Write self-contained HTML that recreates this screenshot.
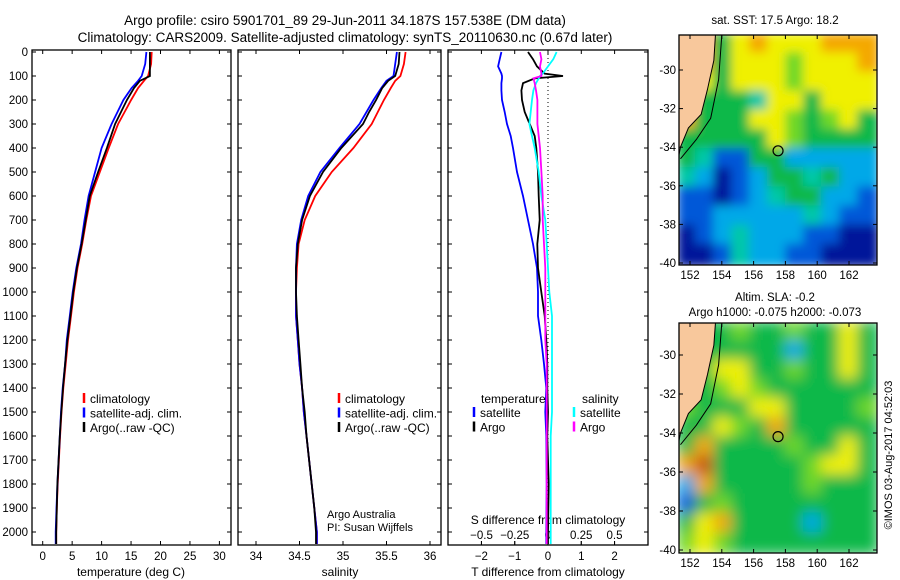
<!DOCTYPE html>
<html><head><meta charset="utf-8">
<style>
body{margin:0;background:#fff;}
svg{display:block;font-family:"Liberation Sans",sans-serif;}
text{fill:#000;}
</style></head>
<body>
<svg id="chart" width="900" height="580" viewBox="0 0 900 580">
<defs>
<filter id="blur1" x="-5%" y="-5%" width="110%" height="110%"><feGaussianBlur stdDeviation="5"/></filter>
<filter id="blur2" x="-5%" y="-5%" width="110%" height="110%"><feGaussianBlur stdDeviation="7"/></filter>
<clipPath id="clipTop"><rect x="679" y="35" width="198" height="230"/></clipPath>
<clipPath id="clipBot"><rect x="679" y="323" width="198" height="230"/></clipPath>
</defs>
<text x="345" y="25" font-size="13.5" text-anchor="middle">Argo profile: csiro 5901701_89 29-Jun-2011 34.187S 157.538E (DM data)</text>
<text x="345" y="42" font-size="13.5" text-anchor="middle">Climatology: CARS2009. Satellite-adjusted climatology: synTS_20110630.nc (0.67d later)</text>
<text x="775" y="24" font-size="11.5" text-anchor="middle">sat. SST: 17.5 Argo: 18.2</text>
<text x="775" y="301" font-size="11.5" text-anchor="middle">Altim. SLA: -0.2</text>
<text x="775" y="316" font-size="11.5" text-anchor="middle">Argo h1000: -0.075 h2000: -0.073</text>
<text transform="translate(892,455) rotate(-90)" font-size="11" text-anchor="middle">©IMOS 03-Aug-2017 04:52:03</text>
<g id="g"></g>
</svg>
<script>
// ---- data ----
const depths   = [0,50,100,120,150,200,250,300,400,500,600,700,800,900,1000,1100,1200,1300,1400,1500,1600,1700,1800,1900,2000,2050];
const tempClim = [18.5,18.4,17.9,17.2,16.2,15.0,13.9,12.8,11.2,9.7,8.2,7.4,6.7,5.9,5.3,4.8,4.3,3.9,3.5,3.2,2.95,2.75,2.55,2.4,2.3,2.3];
const tempSat  = [17.6,17.4,16.8,16.2,15.1,13.7,12.7,11.7,10.0,8.9,7.8,7.1,6.5,5.7,5.1,4.6,4.1,3.8,3.4,3.1,2.9,2.7,2.5,2.35,2.2,2.2];
const tempArgo = [18.2,18.2,18.2,16.5,15.5,14.3,13.3,12.3,10.9,9.4,8.0,7.3,6.6,5.8,5.2,4.7,4.2,3.8,3.45,3.15,2.9,2.7,2.5,2.4,2.3,2.3];
const salClim  = [35.72,35.70,35.66,35.60,35.55,35.47,35.40,35.33,35.12,34.87,34.68,34.56,34.49,34.47,34.46,34.46,34.48,34.50,34.53,34.55,34.58,34.61,34.64,34.67,34.70,34.70];
const salSat   = [35.62,35.60,35.58,35.50,35.44,35.35,35.27,35.19,34.96,34.74,34.60,34.52,34.47,34.46,34.46,34.46,34.48,34.50,34.53,34.55,34.58,34.61,34.64,34.67,34.70,34.70];
const salArgo  = [35.65,35.64,35.60,35.52,35.45,35.38,35.30,35.23,34.98,34.77,34.62,34.53,34.48,34.46,34.46,34.47,34.49,34.51,34.53,34.56,34.58,34.61,34.64,34.67,34.69,34.69];
const dDepths  = [0,30,60,90,100,110,130,160,200,250,300,350,400,500,600,700,800,900,1000,1100,1200,1300,1400,1500,1600,1800,2000,2050];
const dTsat    = [-1.40,-1.45,-1.50,-1.40,-1.38,-1.38,-1.40,-1.40,-1.38,-1.30,-1.23,-1.12,-1.05,-0.93,-0.75,-0.60,-0.45,-0.33,-0.30,-0.30,-0.20,-0.12,-0.05,-0.08,-0.05,-0.04,-0.05,-0.05];
const dTargo   = [-0.60,-0.45,-0.33,-0.10,0.45,-0.40,-0.75,-0.80,-0.78,-0.70,-0.55,-0.40,-0.35,-0.30,-0.28,-0.25,-0.32,-0.30,-0.20,-0.10,-0.05,-0.02,-0.02,0.00,-0.02,0.02,0.00,0.00];
const dSsat    = [0.065,0.04,0.00,-0.04,-0.06,-0.07,-0.09,-0.11,-0.12,-0.13,-0.14,-0.12,-0.10,-0.07,-0.05,-0.02,-0.01,0.00,0.01,0.03,0.03,0.03,0.03,0.03,0.02,0.02,0.02,0.02];
const dSargo   = [-0.06,-0.05,-0.06,-0.05,-0.05,-0.11,-0.10,-0.09,-0.08,-0.08,-0.08,-0.07,-0.06,-0.05,-0.04,-0.04,-0.03,-0.02,-0.02,-0.02,-0.02,-0.01,-0.01,-0.01,-0.01,-0.01,-0.01,-0.01];
const depthTicks = [0,100,200,300,400,500,600,700,800,900,1000,1100,1200,1300,1400,1500,1600,1700,1800,1900,2000];
const tempTicks = [0,5,10,15,20,25,30];
const salTicks = [34,34.5,35,35.5,36];
const salTickLabels = ["34","34.5","35","35.5","36"];
const dTTicks = [-2,-1,0,1,2];
const dSTicks = [-0.5,-0.25,0,0.25,0.5];
const dSTickLabels = ["\u22120.5","\u22120.25","0","0.25","0.5"];
const latTicks = [-30,-32,-34,-36,-38,-40];
const lonTicks = [152,154,156,158,160,162];
const floatLon = 157.538, floatLat = -34.187;

// ---- helpers ----
const NS="http://www.w3.org/2000/svg";
const G=document.getElementById('g');
function mk(tag,attrs,parent,txt){const e=document.createElementNS(NS,tag);for(const k in attrs)e.setAttribute(k,attrs[k]);if(txt!==undefined)e.textContent=txt;(parent||G).appendChild(e);return e;}
const top0=50, bot0=545;
const yD = d => 52 + d*0.24;
const panels=[{x0:32,x1:231},{x0:238,x1:441},{x0:448,x1:648}];
const xT = t => 42.7 + t*5.89;
const xS = s => 256 + (s-34)*87;
const xDT = t => 548 + t*33.3;
const xDS = s => 548 + s*133;

panels.forEach((p,i)=>{
  const r=mk('rect',{x:p.x0,y:top0,width:p.x1-p.x0,height:bot0-top0,fill:'none',stroke:'#000','stroke-width':1.3});
  
  
  depthTicks.forEach(d=>{
    mk('line',{x1:p.x0,x2:p.x0+4,y1:yD(d),y2:yD(d),stroke:'#000'});
    mk('line',{x1:p.x1,x2:p.x1-4,y1:yD(d),y2:yD(d),stroke:'#000'});
  });
});
depthTicks.forEach(d=>{
  const t=mk('text',{x:28,y:yD(d)+4,'font-size':11.5,'text-anchor':'end'},G,String(d));
  
  
});
function xticks(vals,labels,fx,p,ylab){
  vals.forEach((v,i)=>{
    const x=fx(v);
    mk('line',{x1:x,x2:x,y1:bot0,y2:bot0-4,stroke:'#000'});
    mk('line',{x1:x,x2:x,y1:top0,y2:top0+4,stroke:'#000'});
    const t=mk('text',{x:x,y:ylab,'font-size':11.5,'text-anchor':'middle'},G,labels[i]);
    
    
  });
}
xticks(tempTicks,tempTicks.map(String),xT,panels[0],560);
xticks(salTicks,salTickLabels,xS,panels[1],560);
xticks(dTTicks,dTTicks.map(v=>v<0?'\u2212'+(-v):String(v)),xDT,panels[2],560);
dSTicks.forEach((v,i)=>{
  const x=xDS(v);
  mk('line',{x1:x,x2:x,y1:bot0,y2:bot0-4,stroke:'#000'});
  const t=mk('text',{x:x,y:539,'font-size':11.5,'text-anchor':'middle'},G,dSTickLabels[i]);
  
  
});
function lbl(x,y,s,name,anchor,size){const t=mk('text',{x:x,y:y,'font-size':size||12,'text-anchor':anchor||'middle'},G,s);return t;}
lbl(131,576,'temperature (deg C)','x-axis-title-temperature');
lbl(340,576,'salinity','x-axis-title-salinity');
lbl(548,576,'T difference from climatology','x-axis-title-t-diff');
lbl(548,524,'S difference from climatology','x-axis-title-s-diff');
lbl(327,518,'Argo Australia','credit-line-1','start',11);
lbl(327,531,'PI: Susan Wijffels','credit-line-2','start',11);

mk('line',{x1:xDT(0),x2:xDT(0),y1:top0,y2:bot0,stroke:'#000','stroke-dasharray':'1,3'});

function series(xs,depArr,fx,color,name){
  const pts=xs.map((v,i)=>fx(v).toFixed(1)+','+yD(depArr[i]).toFixed(1)).join(' ');
  const pl=mk('polyline',{points:pts,fill:'none',stroke:color,'stroke-width':1.8});
  
  
}
series(tempClim,depths,xT,'#f00','temp-climatology-line');
series(tempSat,depths,xT,'#00f','temp-satellite-line');
series(tempArgo,depths,xT,'#000','temp-argo-line');
series(salClim,depths,xS,'#f00','sal-climatology-line');
series(salSat,depths,xS,'#00f','sal-satellite-line');
series(salArgo,depths,xS,'#000','sal-argo-line');
series(dTsat,dDepths,xDT,'#00f','t-diff-satellite-line');
series(dTargo,dDepths,xDT,'#000','t-diff-argo-line');
series(dSsat,dDepths,xDS,'#0ff','s-diff-satellite-line');
series(dSargo,dDepths,xDS,'#f0f','s-diff-argo-line');

function legend(x,y,items,prefix){
  items.forEach((it,i)=>{
    const yy=y+i*14.5;
    mk('line',{x1:x,x2:x,y1:yy-10,y2:yy,stroke:it[1],'stroke-width':2.5});
    const t=mk('text',{x:x+6,y:yy,'font-size':12,'text-anchor':'start'},G,it[0]);
    
    
  });
}
legend(84,403,[['climatology','#f00'],['satellite-adj. clim.','#00f'],['Argo(..raw -QC)','#000']],'temp');
legend(339,403,[['climatology','#f00'],['satellite-adj. clim.','#00f'],['Argo(..raw -QC)','#000']],'sal');
lbl(481,403,'temperature','t-legend-header','start',12);
lbl(582,403,'salinity','s-legend-header','start',12);
legend(474,417,[['satellite','#00f'],['Argo','#000']],'t-diff');
legend(574,417,[['satellite','#0ff'],['Argo','#f0f']],'s-diff');

// ---- maps ----
const pal={d:'#00159a',b:'#0058d8',c:'#00a8e8',t:'#00c8a8',g:'#10b848',l:'#70d828',y:'#f0f000',o:'#f4a800',r:'#c85010'};
const sstGrid=["oogyoyyyooo","oogyyylyyyo","gygyyylyyyy","ygggtyygyyy","ogggyylglyg","gggggylgggg","gtbbggccccc","tcdbcggtgcc","bbdbctggccb","bbccccctcbb","dbctcccbbdd","ddbtccbbddd"];
const slaGrid=["ggglgglggyg","ggggggcggyg","ggyygglggyg","gglylgggggg","lgggyyggggl","ggylgoggggg","gogggglggyg","orggggglyyg","coggggglggg","bglgggggggg","gyoggggcggg","lylgggggggg"];
function drawMap(grid,y0,clip,filt,lat30y,lat40y,name){
  const cw=198/11, ch=230/12;
  const g=mk('g',{'clip-path':'url(#'+clip+')'});
  
  
  const inner=mk('g',{filter:'url(#'+filt+')'},g);
  grid.forEach((row,r)=>{[...row].forEach((c,k)=>{
    mk('rect',{x:(679+k*cw-2).toFixed(1),y:(y0+r*ch-2).toFixed(1),width:(cw+4).toFixed(1),height:(ch+4).toFixed(1),fill:pal[c]},inner);
  });});
  const ppd=(lat40y-lat30y)/10;
  const yL=lat=>lat30y+(-30-lat)*ppd;
  const xL=lon=>690+(lon-152)*15.9;
  const land=mk('polygon',{points:`679,${y0} ${xL(153.6)},${y0} ${xL(153.5)},${yL(-29.5)} ${xL(153.1)},${yL(-31)} ${xL(152.7)},${yL(-32.3)} ${xL(151.9)},${yL(-33)} ${xL(151.4)},${yL(-34)} 679,${yL(-34.4)}`,fill:'#f8c89c',stroke:'#000','stroke-width':1},g);
  
  
  mk('polyline',{points:`${xL(154.0)},${y0} ${xL(153.8)},${yL(-30.5)} ${xL(153.3)},${yL(-32.5)} ${xL(152.4)},${yL(-33.6)} ${xL(151.4)},${yL(-34.6)}`,fill:'none',stroke:'#000','stroke-width':1},g);
  const f=mk('rect',{x:679,y:y0,width:198,height:230,fill:'none',stroke:'#000','stroke-width':1.3});
  
  
  const c=mk('circle',{cx:xL(floatLon),cy:yL(floatLat),r:5,fill:'none',stroke:'#000','stroke-width':1.2});
  
  
  latTicks.forEach(l=>{
    const y=yL(l);
    mk('line',{x1:679,x2:683,y1:y,y2:y,stroke:'#000'});mk('line',{x1:877,x2:873,y1:y,y2:y,stroke:'#000'});
    const t=mk('text',{x:676,y:y+4,'font-size':11.5,'text-anchor':'end'},G,String(l));
    
    
  });
  lonTicks.forEach(l=>{
    const x=xL(l);
    mk('line',{x1:x,x2:x,y1:y0+230,y2:y0+226,stroke:'#000'});mk('line',{x1:x,x2:x,y1:y0,y2:y0+4,stroke:'#000'});
    const t=mk('text',{x:x,y:y0+244,'font-size':11.5,'text-anchor':'middle'},G,String(l));
    
    
  });
}
drawMap(sstGrid,35,'clipTop','blur1',70,263,'sst-map');
drawMap(slaGrid,323,'clipBot','blur2',355,550,'sla-map');
</script>
</body></html>
